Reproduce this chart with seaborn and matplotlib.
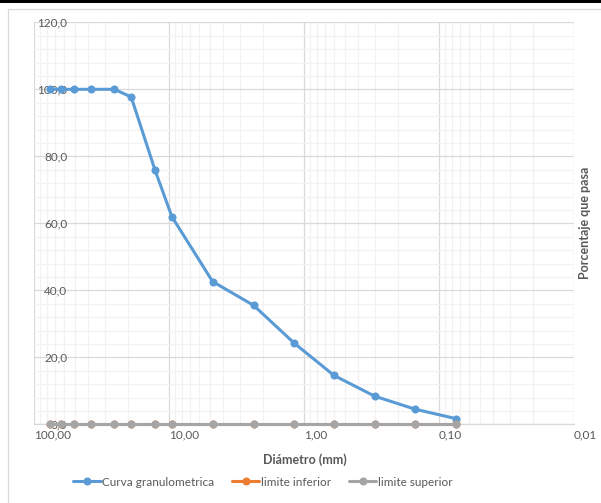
import numpy as np
import pandas as pd
import seaborn as sns
import matplotlib
matplotlib.use("Agg")
import matplotlib.pyplot as plt
from matplotlib.ticker import FixedLocator, LogLocator, MultipleLocator, NullFormatter
from matplotlib.lines import Line2D

# ---- data ----
diametro_mm = [76.2, 63.5, 50.8, 38.1, 25.4, 19.05, 12.7, 9.525, 4.75, 2.36, 1.18, 0.6, 0.3, 0.15, 0.075]
curva_granulometrica = [100.0, 100.0, 100.0, 100.0, 100.0, 97.7, 75.9, 62.0, 42.6, 35.5, 24.2, 14.6, 8.4, 4.5, 1.7]
limite_inferior = [0.0] * 15
limite_superior = [0.0] * 15
series_names = ["Curva granulometrica", "limite inferior", "limite superior"]
x_ticks = [100, 10, 1, 0.1, 0.01]
x_tick_labels = ["100,00", "10,00", "1,00", "0,10", "0,01"]
y_ticks = [0, 20, 40, 60, 80, 100, 120]
y_tick_labels = ["0,0", "20,0", "40,0", "60,0", "80,0", "100,0", "120,0"]

df = pd.DataFrame({
    "d": diametro_mm * 3,
    "v": curva_granulometrica + limite_inferior + limite_superior,
    "serie": [series_names[0]] * 15 + [series_names[1]] * 15 + [series_names[2]] * 15,
})

sns.set_theme(style="white")
plt.rcParams["font.family"] = ["Lato", "DejaVu Sans"]

W, H = 601, 503
fig = plt.figure(figsize=(W / 100, H / 100), dpi=100)
ax = fig.add_axes([34 / W, 1 - 424.3 / H, (574 - 34) / W, (424.3 - 22.3) / H])

palette = {series_names[0]: "#5B9BD5", series_names[1]: "#ED7D31", series_names[2]: "#A5A5A5"}
sns.lineplot(data=df, x="d", y="v", hue="serie", palette=palette, marker="o",
             markersize=5.8, markeredgewidth=0, linewidth=2.2, sort=False,
             estimator=None, legend=False, ax=ax, zorder=3)
for ln in ax.get_lines():
    ln.set_clip_on(False)

ax.set_xscale("log")
ax.set_xlim(100, 0.01)
ax.set_ylim(0, 120)

ax.xaxis.set_major_locator(FixedLocator(x_ticks))
ax.set_xticklabels(x_tick_labels)
ax.xaxis.set_minor_locator(LogLocator(base=10, subs=np.arange(2, 10)))
ax.xaxis.set_minor_formatter(NullFormatter())
ax.yaxis.set_major_locator(FixedLocator(y_ticks))
ax.set_yticklabels(y_tick_labels)
ax.yaxis.set_minor_locator(MultipleLocator(4))

ax.grid(which="major", color="#D9D9D9", linewidth=0.9)
ax.grid(which="minor", color="#F2F2F2", linewidth=0.9)
ax.set_axisbelow(True)

for s in ["top", "right", "left"]:
    ax.spines[s].set_visible(False)
ax.spines["bottom"].set_color("#D9D9D9")
ax.spines["bottom"].set_linewidth(0.9)

ax.tick_params(axis="both", which="both", length=0, colors="#595959", labelsize=8.5)
ax.tick_params(axis="y", pad=-24)
ax.tick_params(axis="x", pad=4)
for lab in ax.get_xticklabels():
    lab.set_horizontalalignment("left")
for lab in ax.get_yticklabels():
    lab.set_horizontalalignment("right")

ax.set_xlabel("")
ax.set_ylabel("")
fig.text(305 / W, 1 - 460 / H, "Diámetro (mm)", ha="center", va="center",
         fontsize=9, fontweight="bold", color="#595959")
fig.text(585 / W, 1 - 223 / H, "Porcentaje que pasa", ha="center", va="center",
         rotation=90, fontsize=9, fontweight="bold", color="#595959")

handles = [Line2D([0], [0], color=palette[n], linewidth=2.2, marker="o",
                  markersize=5.8, markeredgewidth=0) for n in series_names]
fig.legend(handles, series_names, loc="center", bbox_to_anchor=(263 / W, 1 - 482 / H),
           ncol=3, frameon=False, fontsize=8.5, handlelength=2.3, handletextpad=0.15,
           columnspacing=1.5, labelcolor="#595959")

# chart area border and top dark band
fig.add_artist(Line2D([8 / W, 1.0], [1 - 9 / H, 1 - 9 / H], transform=fig.transFigure,
                      color="#D9D9D9", linewidth=0.9))
fig.add_artist(Line2D([8 / W, 8 / W], [0, 1 - 9 / H], transform=fig.transFigure,
                      color="#D9D9D9", linewidth=0.9))
fig.add_artist(plt.Rectangle((0, 1 - 3 / H), 1, 3 / H, transform=fig.transFigure,
                             color="black", linewidth=0))

fig.savefig("out.png", dpi=100)
